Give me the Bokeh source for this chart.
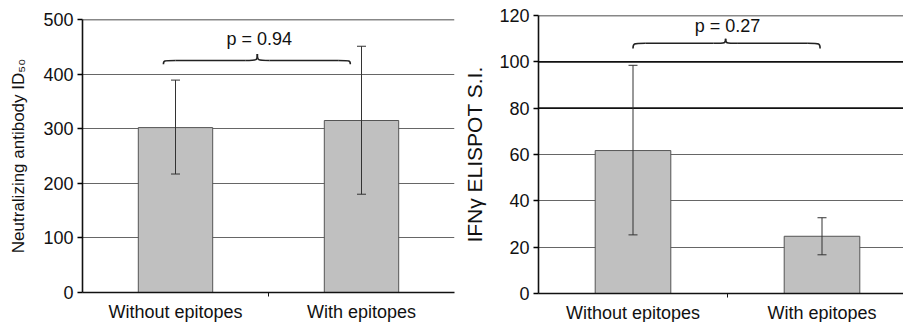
from bokeh.plotting import figure
from bokeh.models import ColumnDataSource, Whisker, TeeHead, FixedTicker, Span, Range1d
from bokeh.layouts import row, column
from bokeh.core.properties import value
from bokeh.embed import file_html
from bokeh.resources import INLINE

FONT = "Liberation Sans"

categories = ["Without epitopes", "With epitopes"]

# Panel 1: neutralizing antibody ID50
nab_mean = [302, 315]
nab_upper = [389, 451]
nab_lower = [217, 180]
nab_p = "p = 0.94"
nab_ticks = [0, 100, 200, 300, 400, 500]
nab_label = "Neutralizing antibody ID\u2085\u2080"

# Panel 2: IFN-gamma ELISPOT S.I.
ifn_mean = [61.7, 24.7]
ifn_upper = [98.5, 32.7]
ifn_lower = [25.3, 16.7]
ifn_p = "p = 0.27"
ifn_ticks = [0, 20, 40, 60, 80, 100, 120]
ifn_dark_grid = [80, 100]
ifn_label = "IFN\u03b3 ELISPOT S.I."


def brace(p, x0, x1, xm, y, hend, hpeak, dx):
    kw = dict(line_color="#222222", line_width=1.6)
    p.bezier(x0=[x0], y0=[y - hend], x1=[x0 + dx], y1=[y], cx0=[x0], cy0=[y], cx1=[x0], cy1=[y], **kw)
    p.line([x0 + dx, xm - dx], [y, y], **kw)
    p.bezier(x0=[xm - dx], y0=[y], x1=[xm], y1=[y + hpeak], cx0=[xm], cy0=[y], cx1=[xm], cy1=[y], **kw)
    p.bezier(x0=[xm], y0=[y + hpeak], x1=[xm + dx], y1=[y], cx0=[xm], cy0=[y], cx1=[xm], cy1=[y], **kw)
    p.line([xm + dx, x1 - dx], [y, y], **kw)
    p.bezier(x0=[x1 - dx], y0=[y], x1=[x1], y1=[y - hend], cx0=[x1], cy0=[y], cx1=[x1], cy1=[y], **kw)


def make_panel(mean, upper, lower, ticks, ymax, xmax, ylabel, ylabel_size, ylabel_standoff, ptext, br,
               frame_w, mbl, mbr, mbt, frame_h, dark_grid):
    p = figure(frame_width=frame_w, frame_height=frame_h, output_backend="svg", toolbar_location=None,
               x_range=Range1d(0, xmax), y_range=Range1d(0, ymax),
               min_border_left=mbl, min_border_right=mbr,
               min_border_top=mbt, min_border_bottom=322 - mbt - frame_h)
    p.outline_line_color = None
    p.background_fill_color = "white"
    p.border_fill_color = "white"
    xs = [0.5, 1.5]
    src = ColumnDataSource(dict(x=xs, top=mean, upper=upper, lower=lower))
    p.vbar(x="x", top="top", bottom=0, width=0.4, source=src,
           fill_color="#c0c0c0", line_color="#555555", line_width=1)
    p.add_layout(Whisker(base="x", upper="upper", lower="lower", source=src, level="overlay",
                         line_color="#333333", line_width=1,
                         upper_head=TeeHead(size=9, line_color="#333333", line_width=1),
                         lower_head=TeeHead(size=9, line_color="#333333", line_width=1)))
    # grid
    p.xgrid.visible = False
    p.ygrid.ticker = FixedTicker(ticks=ticks)
    p.ygrid.grid_line_color = "#666666"
    p.ygrid.grid_line_width = 1
    p.ygrid.level = "underlay"
    for g in dark_grid + [ticks[-1]]:
        p.add_layout(Span(location=g, dimension="width", line_color="#111111", line_width=1.6,
                          level="underlay"))
    # axes
    p.yaxis.ticker = FixedTicker(ticks=ticks)
    p.yaxis.axis_label = ylabel
    p.yaxis.axis_label_text_font = FONT
    p.yaxis.axis_label_text_font_style = "normal"
    p.yaxis.axis_label_text_font_size = ylabel_size
    p.yaxis.axis_label_text_color = "#111111"
    p.yaxis.axis_label_standoff = ylabel_standoff
    p.yaxis.major_label_text_font = FONT
    p.yaxis.major_label_text_font_size = "18px"
    p.yaxis.major_label_text_color = "#111111"
    p.yaxis.major_label_standoff = 4
    p.yaxis.major_tick_out = 5
    p.yaxis.major_tick_in = 0
    p.yaxis.minor_tick_line_color = None
    p.yaxis.axis_line_color = "#111111"
    p.yaxis.axis_line_width = 1.6
    p.yaxis.major_tick_line_width = 1.4

    p.xaxis.ticker = FixedTicker(ticks=xs, minor_ticks=[1.0])
    p.xaxis.major_label_overrides = {0.5: categories[0], 1.5: categories[1]}
    p.xaxis.major_label_text_font = FONT
    p.xaxis.major_label_text_font_size = "18px"
    p.xaxis.major_label_text_color = "#111111"
    p.xaxis.major_label_standoff = 5
    p.xaxis.major_tick_out = 0
    p.xaxis.major_tick_in = 0
    p.xaxis.minor_tick_out = 4
    p.xaxis.minor_tick_in = 0
    p.xaxis.minor_tick_line_color = "#111111"
    p.xaxis.axis_line_color = "#111111"
    p.xaxis.axis_line_width = 1.6

    x0, x1, xm, y, hend, hpeak, dx, ty = br
    brace(p, x0, x1, xm, y, hend, hpeak, dx)
    p.text(x=[xm + 0.01], y=[ty], text=[ptext], text_font=value(FONT), text_font_size="18px",
           text_align="center", text_baseline="bottom", text_color="#111111")
    return p


p1 = make_panel(nab_mean, nab_upper, nab_lower, nab_ticks, 500, 2.0,
                nab_label, "17px", 12, nab_p,
                (0.435, 1.44, 0.94, 425, 7, 12, 0.065, 446),
                frame_w=372, mbl=82, mbr=6, mbt=19, frame_h=273, dark_grid=[])
p2 = make_panel(ifn_mean, ifn_upper, ifn_lower, ifn_ticks, 120, 366 / 189.0,
                ifn_label, "21px", 10, ifn_p,
                (0.50, 1.49, 0.99, 108, 2.2, 2.0, 0.065, 111.0),
                frame_w=366, mbl=77, mbr=0, mbt=15, frame_h=278, dark_grid=ifn_dark_grid)

layout = row(column(p1), column(p2))
open("out.html", "w").write(file_html(layout, INLINE))
